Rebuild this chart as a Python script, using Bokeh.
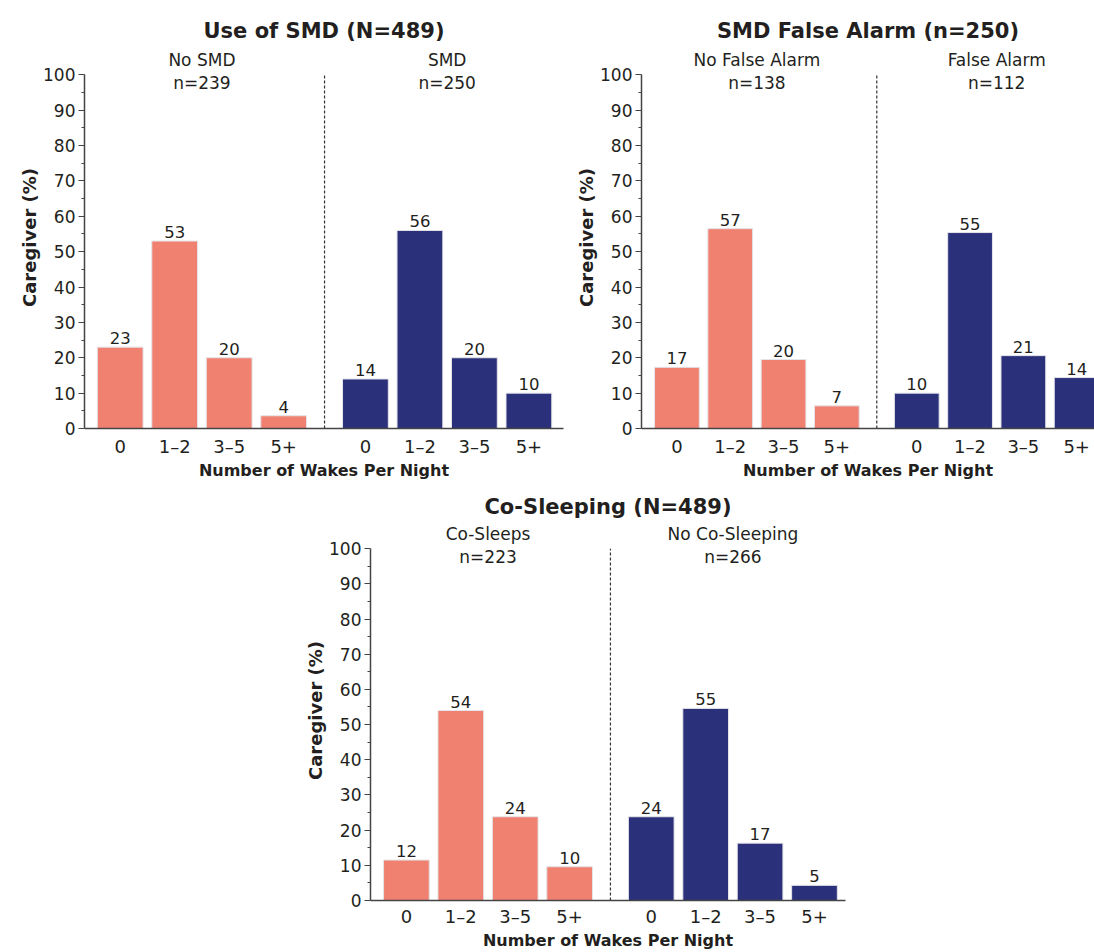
from bokeh.plotting import figure
from bokeh.models import Range1d, FixedTicker, ColumnDataSource, Spacer
from bokeh.layouts import row, column
from bokeh.embed import file_html
from bokeh.resources import INLINE
from bokeh.core.properties import value

# ---------------- data ----------------
categories = ["0", "1\u20132", "3\u20135", "5+"]

titles = ["Use of SMD (N=489)", "SMD False Alarm (n=250)", "Co-Sleeping (N=489)"]
group_names = [["No SMD", "SMD"], ["No False Alarm", "False Alarm"], ["Co-Sleeps", "No Co-Sleeping"]]
group_ns = [["n=239", "n=250"], ["n=138", "n=112"], ["n=223", "n=266"]]

# bar heights (%) as drawn
smd_no = [23, 53, 20, 3.6]
smd_yes = [14, 56, 20, 10]
fa_no = [17.3, 56.5, 19.5, 6.4]
fa_yes = [10, 55.4, 20.6, 14.4]
cosleep_yes = [11.5, 54, 23.8, 9.6]
cosleep_no = [23.8, 54.6, 16.3, 4.3]

# printed value labels
smd_no_lbl = [23, 53, 20, 4]
smd_yes_lbl = [14, 56, 20, 10]
fa_no_lbl = [17, 57, 20, 7]
fa_yes_lbl = [10, 55, 21, 14]
cosleep_yes_lbl = [12, 54, 24, 10]
cosleep_no_lbl = [24, 55, 17, 5]

y_ticks = list(range(0, 101, 10))
x_label = "Number of Wakes Per Night"
y_label = "Caregiver (%)"

SALMON = "#F08070"
NAVY = "#2A307A"
TXT = "#231F20"
FONT = "DejaVu Sans"


def panel(title, names, ns, va, vb, la, lb, width, height, mbl, mbr, mbt, mbb, x_start, x_end,
          xlab_standoff=7, title_standoff=8):
    p = figure(width=width, height=height, output_backend="svg", toolbar_location=None,
               x_range=Range1d(x_start, x_end), y_range=Range1d(0, 108),
               min_border_left=mbl, min_border_right=mbr, min_border_top=mbt, min_border_bottom=mbb,
               title=title)
    p.title.align = "center"
    p.title.text_font = FONT
    p.title.text_font_size = "21px"
    p.title.text_font_style = "bold"
    p.title.text_color = TXT
    p.title.standoff = title_standoff
    p.outline_line_color = None
    p.xgrid.visible = False
    p.ygrid.visible = False
    p.background_fill_color = "white"
    p.border_fill_color = "white"

    pos_a = [2 * i for i in range(len(categories))]
    pos_b = [2 * i + 9 for i in range(len(categories))]

    src_a = ColumnDataSource(dict(x=pos_a, top=va, lbl=[str(v) for v in la]))
    src_b = ColumnDataSource(dict(x=pos_b, top=vb, lbl=[str(v) for v in lb]))
    for src, col in ((src_a, SALMON), (src_b, NAVY)):
        p.vbar(x="x", top="top", bottom=0, width=1.68, source=src,
               fill_color=col, line_color="#e4e4ea", line_width=1)
        p.text(x="x", y="top", text="lbl", source=src, text_align="center",
               text_baseline="bottom", y_offset=-3, text_font=value(FONT), text_font_size="16.5px",
               text_color=TXT)

    # separator
    sep = (pos_a[-1] + pos_b[0]) / 2
    p.segment(x0=[sep], y0=[0], x1=[sep], y1=[100], line_color="#333333",
              line_width=1.2, line_dash="3 2")

    # group labels
    gx = [sum(pos_a) / len(pos_a), sum(pos_b) / len(pos_b)]
    p.text(x=gx, y=[104.2, 104.2], text=names, text_align="center", text_baseline="middle",
           text_font=value(FONT), text_font_size="17px", text_color=TXT)
    p.text(x=gx, y=[97.6, 97.6], text=ns, text_align="center", text_baseline="middle",
           text_font=value(FONT), text_font_size="17px", text_color=TXT)

    # x axis
    xa = p.xaxis[0]
    xa.ticker = FixedTicker(ticks=pos_a + pos_b, minor_ticks=[])
    xa.major_label_overrides = {k: c for k, c in zip(pos_a + pos_b, categories + categories)}
    xa.major_tick_out = 0
    xa.major_tick_in = 0
    xa.minor_tick_out = 0
    xa.major_label_standoff = xlab_standoff
    xa.major_label_text_font = FONT
    xa.major_label_text_font_size = "18px"
    xa.major_label_text_color = TXT
    xa.axis_label = x_label
    xa.axis_label_text_font = FONT
    xa.axis_label_text_font_size = "16px"
    xa.axis_label_text_font_style = "bold"
    xa.axis_label_text_color = TXT
    xa.axis_label_standoff = 1
    xa.axis_line_color = "#444444"
    xa.axis_line_width = 1.5

    # y axis
    ya = p.yaxis[0]
    ya.ticker = FixedTicker(ticks=y_ticks, minor_ticks=[t + 5 for t in y_ticks[:-1]])
    ya.bounds = (0, 100)
    ya.major_tick_out = 6
    ya.major_tick_in = 0
    ya.minor_tick_out = 3
    ya.minor_tick_in = 0
    ya.major_tick_line_color = "#444444"
    ya.minor_tick_line_color = "#444444"
    ya.major_label_standoff = 3
    ya.major_label_text_font = FONT
    ya.major_label_text_font_size = "17px"
    ya.major_label_text_color = TXT
    ya.axis_label = y_label
    ya.axis_label_text_font = FONT
    ya.axis_label_text_font_size = "18px"
    ya.axis_label_text_font_style = "bold"
    ya.axis_label_text_color = TXT
    ya.axis_label_standoff = 0
    ya.axis_line_color = "#444444"
    ya.axis_line_width = 1.5
    return p


p1 = panel(titles[0], group_names[0], group_ns[0], smd_no, smd_yes, smd_no_lbl, smd_yes_lbl,
           570, 482, 84, 7, 46, 54, -1.31, 16.27)
p2 = panel(titles[1], group_names[1], group_ns[1], fa_no, fa_yes, fa_no_lbl, fa_yes_lbl,
           524, 482, 71, 0, 46, 54, -1.33, 15.67)
p3 = panel(titles[2], group_names[2], group_ns[2], cosleep_yes, cosleep_no, cosleep_yes_lbl, cosleep_no_lbl,
           555, 470, 70, 10, 38, 52, -1.32, 16.14, xlab_standoff=5, title_standoff=4)

layout = column(row(p1, p2), row(Spacer(width=300, height=470), p3))

open("out.html", "w").write(file_html(layout, INLINE))
